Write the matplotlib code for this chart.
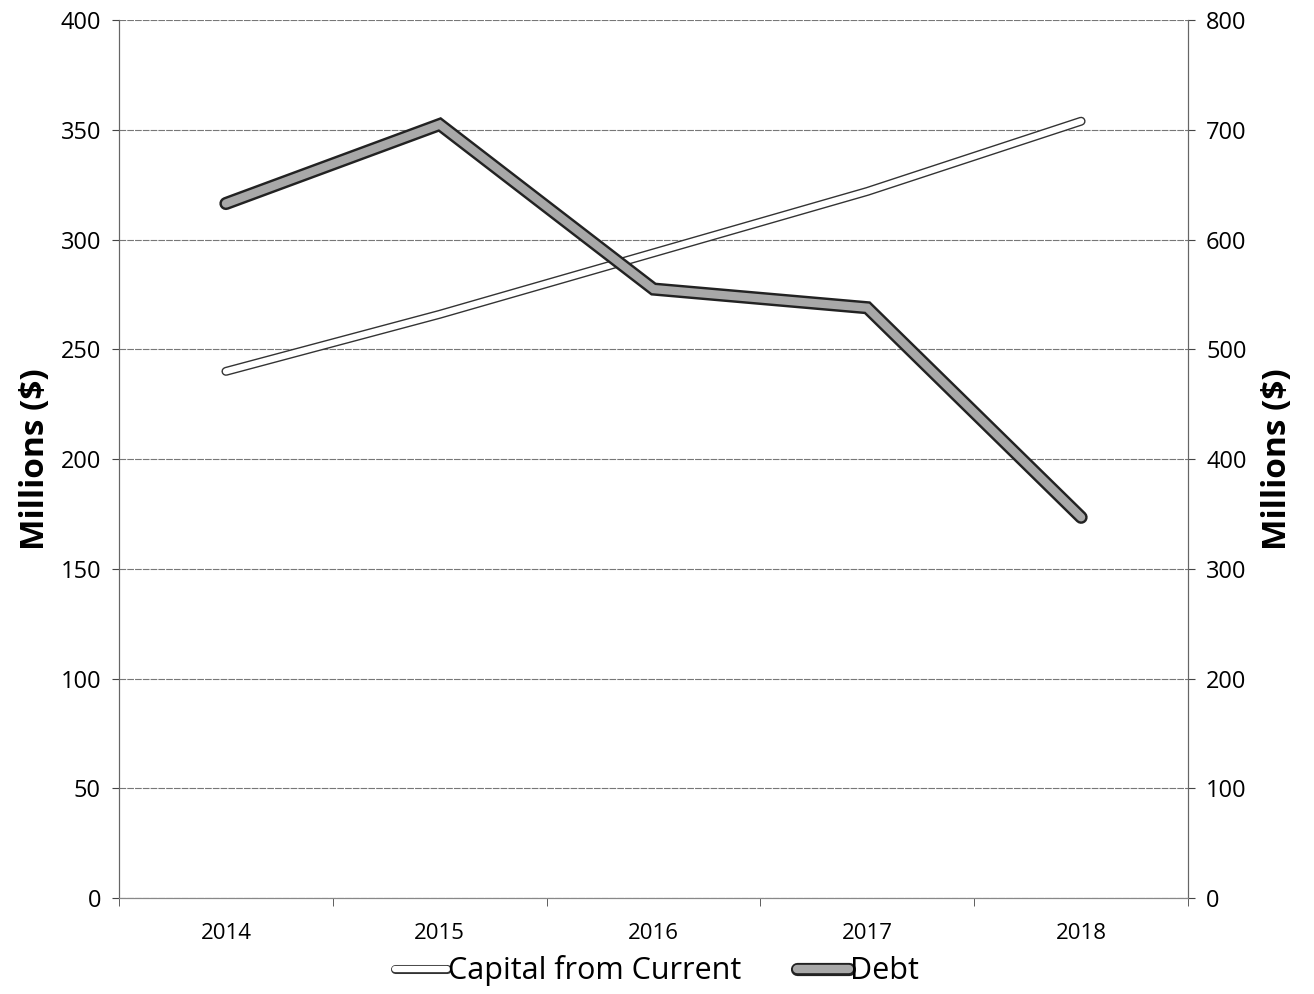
import matplotlib
matplotlib.use("Agg")
import matplotlib.pyplot as plt
from matplotlib import patheffects as pe
from matplotlib import ticker

years = ["2014", "2015", "2016", "2017", "2018"]
capital = [240, 266, 294, 322, 354]   # left axis, millions $
debt = [633, 705, 555, 538, 347]      # right axis, millions $

plt.rcParams["font.family"] = ["Open Sans", "DejaVu Sans"]

fig = plt.figure(figsize=(13.14, 9.94), dpi=100)
ax = fig.add_axes([0.0906, 0.0966, 0.8135, 0.883])
ax2 = ax.twinx()

x = list(range(len(years)))

ax.set_xlim(-0.5, len(years) - 0.5)
ax.set_ylim(0, 400)
ax2.set_ylim(0, 800)
ax.yaxis.set_major_locator(ticker.MultipleLocator(50))
ax2.yaxis.set_major_locator(ticker.MultipleLocator(100))

ax.set_xticks(x)
ax.set_xticklabels(years, fontsize=16)
ax.set_xticks([i - 0.5 for i in range(len(years) + 1)], minor=True)
ax.tick_params(axis="x", which="major", length=0, pad=18)
ax.tick_params(axis="x", which="minor", length=6, color="#444444", direction="out")
ax.tick_params(axis="y", labelsize=17, length=5, color="#444444", pad=8)
ax2.tick_params(axis="y", labelsize=17, length=5, color="#444444", pad=8)

ax.grid(axis="y", color="#777777", linewidth=0.8, linestyle=(0, (6, 1)))
ax.set_axisbelow(True)

for a in (ax, ax2):
    a.spines["top"].set_visible(False)
    a.spines["left"].set_color("#666666")
    a.spines["right"].set_color("#666666")
    a.spines["bottom"].set_color("#888888")

ax.set_ylabel("Millions ($)", fontsize=24, fontweight="bold", labelpad=6)
ax2.set_ylabel("Millions ($)", fontsize=24, fontweight="bold", labelpad=10)

l1, = ax.plot(x, capital, color="white", linewidth=4.5, solid_capstyle="round",
              solid_joinstyle="miter", label="Capital from Current",
              path_effects=[pe.Stroke(linewidth=6.5, foreground="#333333"), pe.Normal()])
l2, = ax2.plot(x, debt, color="#a8a8a8", linewidth=6, solid_capstyle="round",
               solid_joinstyle="miter", label="Debt",
               path_effects=[pe.Stroke(linewidth=9.5, foreground="#222222"), pe.Normal()])

fig.legend([l1, l2], ["Capital from Current", "Debt"], loc="lower center",
           bbox_to_anchor=(0.5, -0.02), ncol=2, frameon=False, fontsize=22,
           handlelength=1.7, handletextpad=0.05, columnspacing=1.8)

fig.savefig("out.png", dpi=100)
